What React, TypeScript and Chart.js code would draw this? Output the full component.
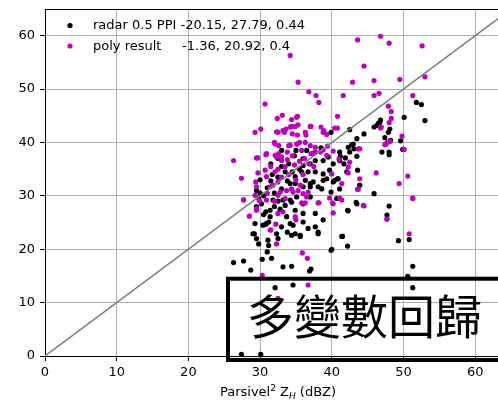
import React, { useEffect, useRef } from "react";
import { Chart, registerables } from "chart.js";

Chart.register(...registerables);

// ---------- data ----------
const radarLabel = "radar 0.5 PPI -20.15, 27.79, 0.44";
const polyLabel = "poly result     -1.36, 20.92, 0.4";
const boxText = "多變數回歸";
const xTicks = [0, 10, 20, 30, 40, 50, 60];
const yTicks = [0, 10, 20, 30, 40, 50, 60];
const diagonal = [0, 70];

const radarPoints: [number, number][] = [
  [26.3, 17.5], [27.7, 17.8], [28.7, 16.1], [27.4, 0.3], [30.1, 0.3],
  [32.1, 12.8], [34.6, 13.3], [36.9, 15.9], [37.1, 16.3], [39.9, 19.8], [42.2, 20.6], [41.5, 22.4],
  [34.4, 16.8], [33.2, 16.7], [30.3, 18.1], [31.6, 18.3], [31.0, 19.5], [38.1, 22.9], [37.7, 24.2],
  [36.7, 23.9], [35.6, 22.6], [34.4, 22.6], [33.8, 23.2], [32.5, 22.0], [31.2, 20.7], [29.8, 21.0],
  [29.5, 22.0], [29.2, 22.9], [30.8, 24.7], [31.2, 25.1], [38.8, 25.5], [42.2, 27.3], [43.4, 28.8],
  [47.7, 26.4], [49.3, 21.6], [50.8, 21.8], [51.3, 16.8], [50.6, 14.9], [51.3, 12.8],
  [31.4, 27.3], [31.8, 29.2], [30.9, 24.8], [30.4, 24.5], [29.3, 24.8], [29.0, 22.9], [31.1, 21.7],
  [32.3, 22.9], [34.9, 22.9], [33.0, 24.2], [34.2, 24.8], [33.7, 26.1], [33.5, 28.2], [34.4, 28.8],
  [34.9, 27.3], [35.1, 29.8], [33.0, 31.3], [34.9, 32.3], [31.4, 26.1], [33.2, 29.2],
  [34.2, 32.3], [36.0, 31.7], [37.0, 32.3], [38.6, 31.3], [40.2, 32.6], [37.0, 29.8], [36.0, 28.5],
  [34.2, 29.2], [36.0, 26.7], [37.7, 26.7], [40.7, 29.5], [43.5, 28.5], [42.3, 27.2], [36.0, 25.1],
  [34.6, 24.5], [38.1, 23.2], [41.4, 22.4], [35.6, 22.4], [40.0, 20.0],
  [42.5, 42.4], [43.5, 40.7], [43.0, 39.7], [42.3, 39.1], [41.1, 38.2], [39.9, 41.9], [41.1, 36.6],
  [40.2, 36.0], [39.5, 37.3], [38.8, 36.6], [37.7, 36.6], [37.0, 36.0], [36.0, 35.7], [35.8, 34.5],
  [36.7, 34.5], [37.7, 34.5], [38.8, 34.1], [39.7, 34.8], [42.1, 34.5], [34.9, 33.6], [36.3, 32.9],
  [37.4, 32.6], [38.8, 32.9], [40.9, 33.2], [37.0, 31.7], [38.1, 31.7], [41.1, 31.3], [43.9, 32.0],
  [51.8, 47.5], [52.5, 47.1], [53.0, 44.1], [50.1, 44.7], [46.3, 43.2], [46.5, 43.6], [46.7, 43.8],
  [45.9, 42.9], [48.1, 42.5], [47.9, 41.9], [47.4, 40.9], [48.2, 40.4], [49.6, 40.3], [47.0, 38.2],
  [48.0, 38.2], [48.0, 37.7], [49.9, 38.7], [44.5, 41.6], [42.8, 39.6], [43.1, 38.8], [43.5, 37.4],
  [42.5, 38.2], [43.6, 34.8], [41.2, 37.4], [41.9, 37.1], [41.7, 36.0], [45.9, 30.4], [39.9, 30.7],
  [40.4, 32.9], [40.8, 33.2], [39.3, 33.2], [46.8, 44.2], [48.0, 28.1],
  [30.5, 30.0], [30.2, 28.5], [30.0, 30.5], [31.0, 31.5], [31.5, 32.8], [32.0, 30.5], [32.5, 29.0],
  [32.8, 27.5], [32.0, 28.0], [30.8, 27.0], [29.8, 29.5], [29.5, 28.0], [30.5, 26.5], [31.7, 34.0],
  [32.5, 33.5], [33.5, 34.5], [33.0, 35.5], [34.0, 36.0], [34.5, 34.5], [33.8, 32.8], [35.5, 35.0],
  [34.8, 37.5], [36.0, 37.0], [32.5, 37.0], [31.5, 36.0], [33.0, 38.5], [35.0, 38.5], [36.5, 38.5],
  [37.5, 38.0], [38.5, 39.0], [30.0, 33.0], [29.5, 31.0],
];

const polyPoints: [number, number][] = [
  [51.8, 65.3], [34.2, 56.3], [35.3, 51.3], [36.8, 49.5], [37.8, 48.8], [38.2, 47.5], [30.7, 47.2],
  [33.1, 45.1], [32.4, 44.5], [34.4, 44.3], [35.2, 44.9], [40.8, 44.9], [46.8, 59.9], [43.6, 59.2],
  [48.0, 58.6], [52.6, 58.1], [44.5, 54.3], [42.9, 51.3], [45.9, 51.6], [49.5, 51.8], [53.0, 52.3],
  [41.6, 48.8], [45.9, 48.8], [46.6, 49.2], [51.3, 48.8], [47.9, 46.8], [48.3, 45.8], [48.3, 44.5],
  [48.0, 43.7], [29.3, 41.9], [30.1, 42.5], [32.5, 41.9], [33.2, 42.2], [33.6, 42.5], [34.2, 42.9],
  [34.9, 43.0], [35.2, 41.4], [36.4, 41.4], [37.0, 43.0], [38.5, 42.9], [38.9, 42.2], [39.3, 41.5],
  [40.4, 42.7], [40.8, 42.7], [46.8, 42.7], [49.8, 41.2], [47.4, 39.6], [47.7, 40.0], [50.1, 38.7],
  [32.0, 40.0], [34.0, 39.4], [35.5, 40.0], [33.8, 38.2], [37.7, 39.1], [39.4, 39.3], [38.4, 38.2],
  [40.2, 38.4], [37.1, 37.9], [32.1, 37.6], [32.6, 37.9], [33.0, 37.3], [30.8, 37.7], [29.5, 37.1],
  [42.3, 34.3], [46.2, 34.3], [50.6, 33.7], [49.4, 32.3], [29.4, 32.6], [43.6, 31.2], [51.3, 29.6],
  [39.7, 29.6], [41.1, 29.6],
  [26.3, 36.6], [27.4, 33.3], [27.7, 29.3], [28.5, 26.2], [30.3, 15.1], [32.5, 10.8], [35.9, 19.3],
  [36.6, 18.3], [36.7, 13.3], [32.2, 24.7], [32.3, 21.0], [31.5, 23.6], [29.5, 27.6], [40.2, 26.8],
  [40.2, 28.5], [38.2, 28.7], [44.5, 28.1], [47.7, 25.7], [50.8, 22.9], [35.8, 28.7], [36.3, 28.7],
  [32.3, 42.0], [33.4, 41.9], [34.5, 41.6], [32.1, 39.7], [32.6, 39.4], [34.2, 39.5], [35.2, 39.7],
  [30.9, 37.9], [29.7, 37.1], [32.3, 37.3], [33.0, 36.6], [30.7, 34.8], [29.7, 34.3], [32.1, 34.5],
  [30.9, 33.6], [31.4, 31.7],
  [35.1, 44.7], [34.4, 43.0], [35.3, 43.3], [36.3, 41.9], [37.1, 43.0], [38.8, 41.9], [35.1, 39.7],
  [36.3, 40.0], [37.0, 39.4], [37.7, 38.2], [38.8, 38.6], [39.3, 37.6], [41.0, 36.9], [43.7, 38.8],
  [42.5, 36.3], [42.3, 35.4], [41.4, 32.3], [40.0, 34.1], [43.7, 31.3], [43.9, 33.2],
  [27.7, 29.2], [29.3, 30.1], [29.9, 29.1], [29.5, 27.3], [30.9, 29.2], [32.5, 30.1], [33.7, 31.0],
  [34.4, 31.3], [32.8, 30.7], [32.5, 26.7], [33.2, 27.0], [31.4, 23.6], [29.5, 31.7], [31.8, 32.0],
  [32.5, 32.6], [34.9, 26.1],
  [34.6, 30.7], [35.3, 31.0], [36.0, 30.4], [36.7, 30.7], [36.5, 29.8], [38.1, 28.7], [35.6, 32.0],
  [40.1, 28.7], [41.4, 29.2], [44.4, 28.2], [35.0, 25.5],
  [48.1, 40.2], [47.6, 39.7], [46.9, 42.9], [43.9, 38.8], [47.7, 25.6], [51.3, 29.5],
  [33.5, 35.5], [34.0, 34.0], [34.8, 35.8], [35.5, 36.5], [36.2, 37.0], [33.0, 33.5], [34.5, 37.5],
  [35.8, 38.5], [36.8, 36.0], [31.5, 35.5], [32.5, 35.0], [33.8, 36.8], [35.0, 33.0], [36.0, 34.0],
  [37.5, 35.5], [31.0, 30.5], [32.0, 29.0], [33.5, 29.5],
];

const FONT = "DejaVu Sans";
const MAGENTA = "#bf00bf";

const extrasPlugin = {
  id: "extras",
  afterDatasetsDraw(chart: any) {
    const ctx = chart.ctx;
    ctx.save();
    const items: [string, string, number][] = [
      [radarLabel, "#000000", 26],
      [polyLabel, MAGENTA, 46.5],
    ];
    ctx.font = `13px "${FONT}"`;
    ctx.textBaseline = "middle";
    ctx.textAlign = "left";
    for (const [label, color, y] of items) {
      ctx.fillStyle = color;
      ctx.beginPath();
      ctx.arc(70, y - 0.5, 2.6, 0, Math.PI * 2);
      ctx.fill();
      ctx.fillStyle = "#000";
      ctx.fillText(label, 93, y);
    }
    ctx.restore();
  },
  afterDraw(chart: any) {
    const ctx = chart.ctx;
    const a = chart.chartArea;
    ctx.save();
    ctx.strokeStyle = "#000";
    ctx.lineWidth = 1;
    ctx.beginPath();
    ctx.moveTo(a.left, Math.round(a.top) + 0.5);
    ctx.lineTo(a.right, Math.round(a.top) + 0.5);
    ctx.stroke();

    const parts: { t: string; font: string; dy: number }[] = [
      { t: "Parsivel", font: `13px "${FONT}"`, dy: 0 },
      { t: "2", font: `9px "${FONT}"`, dy: -5 },
      { t: " Z", font: `13px "${FONT}"`, dy: 0 },
      { t: "H", font: `italic 9px "${FONT}"`, dy: 3 },
      { t: " (dBZ)", font: `13px "${FONT}"`, dy: 0 },
    ];
    let total = 0;
    for (const p of parts) {
      ctx.font = p.font;
      total += ctx.measureText(p.t).width;
    }
    let x = (a.left + a.right) / 2 - total / 2;
    const base = 396;
    ctx.fillStyle = "#000";
    ctx.textBaseline = "alphabetic";
    ctx.textAlign = "left";
    for (const p of parts) {
      ctx.font = p.font;
      ctx.fillText(p.t, x, base + p.dy);
      x += ctx.measureText(p.t).width;
    }

    ctx.lineWidth = 4;
    ctx.strokeStyle = "#000";
    ctx.strokeRect(228, 278.7, 400, 81.3);
    ctx.font = `47px "Noto Sans CJK TC"`;
    ctx.textBaseline = "middle";
    ctx.fillStyle = "#000";
    ctx.fillText(boxText, 247, 316);
    ctx.restore();
  },
};

function zeroPad(s: any) {
  s.paddingLeft = 0;
  s.paddingRight = 0;
  s.paddingTop = 0;
  s.paddingBottom = 0;
}

export default function App() {
  const ref = useRef<HTMLCanvasElement | null>(null);

  useEffect(() => {
    document.body.style.margin = "0";
    const canvas = ref.current!;
    const tickFont = { family: FONT, size: 13 };
    const chart = new Chart(canvas, {
      type: "scatter",
      data: {
        datasets: [
          {
            type: "line",
            label: "1:1",
            data: diagonal.map((v) => ({ x: v, y: v })),
            borderColor: "#808080",
            borderWidth: 1.5,
            pointRadius: 0,
            fill: false,
          } as any,
          {
            label: "poly",
            data: polyPoints.map(([x, y]) => ({ x, y })),
            backgroundColor: MAGENTA,
            borderWidth: 0,
            pointRadius: 2.6,
          },
          {
            label: "radar",
            data: radarPoints.map(([x, y]) => ({ x, y })),
            backgroundColor: "#000000",
            borderWidth: 0,
            pointRadius: 2.6,
          },
        ],
      },
      options: {
        responsive: false,
        animation: false,
        devicePixelRatio: 1,
        layout: { padding: { top: 9, right: 9, left: 0, bottom: 0 } },
        plugins: { legend: { display: false }, tooltip: { enabled: false } },
        scales: {
          x: {
            type: "linear",
            min: 0,
            max: 65,
            afterBuildTicks: (s: any) => {
              s.ticks = xTicks.map((v) => ({ value: v }));
            },
            afterFit: (s: any) => {
              s.height = 45;
              zeroPad(s);
            },
            ticks: { font: tickFont, color: "#000", padding: 4, maxRotation: 0 },
            grid: { color: "#b0b0b0", lineWidth: 1, tickColor: "#000", tickLength: 5 },
            border: { color: "#000", width: 1 },
          },
          y: {
            type: "linear",
            min: 0,
            max: 65,
            afterBuildTicks: (s: any) => {
              s.ticks = yTicks.map((v) => ({ value: v }));
            },
            afterFit: (s: any) => {
              s.width = 45;
              zeroPad(s);
            },
            ticks: { font: tickFont, color: "#000", padding: 5 },
            grid: { color: "#b0b0b0", lineWidth: 1, tickColor: "#000", tickLength: 5 },
            border: { color: "#000", width: 1 },
          },
        },
      },
      plugins: [extrasPlugin],
    });
    return () => chart.destroy();
  }, []);

  return (
    <div style={{ position: "absolute", left: 0, top: 0, width: 498, height: 401, overflow: "hidden", background: "#fff" }}>
      <canvas ref={ref} width={520} height={401} style={{ display: "block" }} />
    </div>
  );
}
